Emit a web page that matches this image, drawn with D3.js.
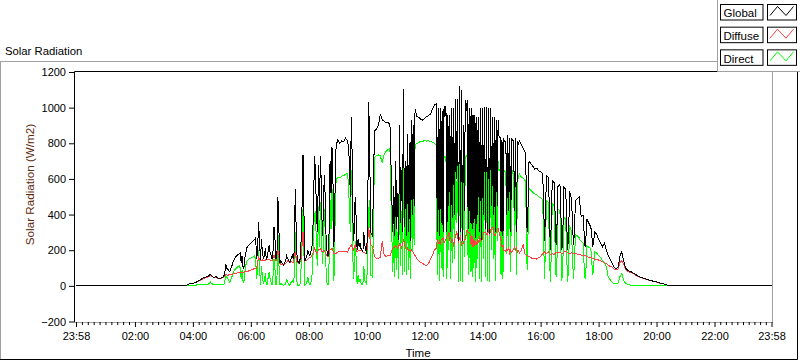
<!DOCTYPE html>
<html><head><meta charset="utf-8">
<script src="https://cdn.jsdelivr.net/npm/d3@7"></script>
<style>
body{margin:0;background:#fff;}
svg{display:block;font-family:"Liberation Sans",Arial,sans-serif;}
</style></head><body>
<svg id="c" width="800" height="361"></svg>
<script>
const chartTitle = "Solar Radiation";
const yAxisTitle = "Solar Radiation (W/m2)";
const xAxisTitle = "Time";
const seriesNames = ["Global", "Diffuse", "Direct"];
const seriesColors = ["#000000", "#ff4040", "#00ff00"];
const xTickLabels = ["23:58","02:00","04:00","06:00","08:00","10:00","12:00","14:00","16:00","18:00","20:00","22:00","23:58"];
const xTickMinutes = [-2,120,240,360,480,600,720,840,960,1080,1200,1320,1438];
const yTicks = [-200,0,200,400,600,800,1000,1200];
const dayStart = -2, dayEnd = 1438;          // minutes from midnight
const sampleStart = 220, sampleStep = 4;     // main samples from 03:40 every 4 min; "mid" samples 2 min later

const globalVals = [
0,0,5,10,12,15,18,22,30,35,
42,48,50,55,65,55,48,52,45,40,
48,55,120,95,80,105,140,160,172,180,
130,95,165,215,228,238,250,262,150,360,
145,190,170,150,200,185,150,330,150,500,
128,130,115,140,155,132,160,150,545,140,
128,250,735,140,170,180,190,250,730,400,
680,730,280,620,240,168,700,780,220,760,
820,800,815,810,830,815,700,945,250,500,
200,220,210,190,230,182,1030,300,280,870,
880,900,960,930,925,915,920,905,480,560,
700,520,900,650,1105,700,850,800,930,900,
990,950,945,935,930,940,950,955,965,990,
1015,1020,1000,1000,980,1010,1010,960,960,1000,
1000,1050,1050,1120,1100,900,1040,1040,1000,1000,
960,960,945,945,1000,1000,1005,1005,1000,1000,
950,950,930,930,830,820,820,810,845,830,
830,815,830,815,815,790,770,750,300,700,
685,670,655,660,645,640,630,250,620,610,
200,590,580,230,560,570,200,555,540,200,
530,490,230,480,490,500,390,395,220,375,
350,330,220,300,290,260,240,220,240,200,
170,150,125,105,95,105,165,190,140,100,
88,80,78,72,65,58,52,48,44,40,
37,34,30,27,25,22,19,16,14,10,
6,2,0,0,0,0,0,0,0,0,0];
const globalMid = [
0,2,8,11,13,16,20,26,32,38,
45,49,52,60,60,50,50,48,42,44,
50,70,100,85,92,122,150,166,176,185,
170,110,190,222,233,244,256,270,200,250,
260,150,210,160,230,170,200,260,170,330,
140,125,130,170,145,140,170,200,300,135,
150,450,400,155,200,170,210,500,620,300,
420,560,400,500,190,300,520,600,480,800,
810,805,812,820,822,780,500,700,300,380,
260,240,200,300,200,400,800,290,600,875,
890,930,950,928,920,918,912,700,300,280,
320,260,350,300,330,280,300,250,400,450,
970,948,940,932,935,945,952,960,978,1002,
1018,300,280,350,300,950,300,450,300,380,
400,600,250,300,250,420,980,320,350,320,
350,270,400,300,260,400,320,300,290,450,
400,300,450,830,300,280,810,400,420,300,
815,420,300,790,805,780,760,600,450,692,
678,662,658,652,642,635,500,400,615,450,
350,585,400,350,565,400,300,548,350,300,
510,350,300,485,495,440,392,300,280,362,
340,280,260,295,275,250,230,230,220,185,
160,138,115,100,98,130,180,165,120,94,
84,79,75,68,62,55,50,46,42,38,
36,32,28,26,24,20,18,15,12,8,
4,1,0,0,0,0,0,0,0,0];

const diffuseVals = [
null,3,5,10,12,15,17,20,28,32,
38,44,46,50,58,52,45,47,42,38,
44,50,62,60,62,65,68,70,72,75,
76,77,78,80,84,88,92,98,100,160,
140,145,140,150,150,145,140,170,140,200,
125,120,115,125,140,130,135,130,190,130,
125,150,300,140,145,155,160,180,210,180,
200,210,190,200,175,165,200,210,180,180,
190,195,190,195,195,190,215,230,200,230,
190,200,200,190,185,180,330,230,220,165,
155,155,160,250,175,165,170,170,200,215,
225,210,235,215,260,215,215,200,205,190,
170,150,140,130,125,118,115,125,150,170,
200,210,240,230,260,240,260,280,260,240,
220,280,290,270,230,240,260,320,300,230,
220,225,230,240,260,280,300,290,320,310,
330,280,300,320,280,220,200,190,200,185,
190,210,200,190,185,200,230,175,170,165,
160,150,155,150,160,165,180,190,180,190,
175,180,175,190,185,190,180,190,195,185,
180,185,180,180,178,175,172,170,170,165,
160,158,155,150,148,145,140,135,130,125,
115,110,105,95,90,95,130,140,120,92,
82,76,74,68,62,55,50,46,42,38,
35,32,29,26,24,21,18,15,13,9,
6,2,null,null,null,null,null,null,null,null,null];
const diffuseMid = [
null,4,8,11,14,16,18,24,30,35,
41,45,48,54,55,48,46,44,40,41,
47,56,61,61,64,66,69,71,74,76,
76,78,79,82,86,90,95,99,130,150,
142,142,145,150,148,142,155,155,170,160,
122,118,120,132,135,132,132,160,160,128,
138,225,220,142,150,158,170,195,195,190,
205,200,195,188,170,182,205,195,180,185,
192,192,192,195,192,202,222,215,215,210,
195,200,195,188,182,255,280,225,190,160,
155,158,205,210,170,168,170,180,210,220,
220,220,230,230,240,210,200,195,195,180,
160,145,135,128,122,116,120,138,160,185,
205,260,250,260,270,250,280,300,270,260,
260,300,240,280,240,260,290,300,290,280,
260,250,260,270,250,300,300,290,280,320,
330,280,320,300,260,230,200,210,215,200,
195,220,210,195,192,215,202,172,168,162,
155,152,152,155,162,172,185,185,185,182,
178,178,182,188,188,185,185,192,190,182,
182,182,180,179,176,174,171,170,168,162,
159,156,152,149,146,142,138,132,128,120,
112,108,100,92,92,112,135,130,106,87,
79,75,71,65,58,52,48,44,40,36,
33,30,28,25,22,20,16,14,11,8,
4,null,null,null,null,null,null,null,null,null];

const directVals = [
null,2,2,3,3,4,4,5,5,6,
6,6,7,10,22,12,5,6,6,6,
6,6,60,40,20,45,78,95,105,112,
40,20,85,138,150,155,160,168,40,200,
5,50,30,5,50,40,5,150,5,310,
3,5,3,10,20,3,25,15,300,3,
3,100,430,5,20,20,10,80,400,190,
450,470,120,430,60,10,480,550,30,570,
610,605,615,620,625,630,440,650,40,250,
10,20,15,10,30,5,420,60,50,720,
730,735,730,690,740,755,765,770,280,340,
470,300,650,420,780,470,610,570,720,700,
790,800,805,810,812,815,812,815,810,805,
800,790,760,760,740,730,730,700,700,740,
760,750,750,800,790,650,720,720,770,770,
760,760,745,745,740,740,700,700,700,690,
690,680,680,700,650,650,650,640,660,640,
660,630,640,630,630,610,605,590,90,545,
535,525,515,510,500,495,485,40,480,470,
20,460,450,50,430,420,30,390,370,20,
340,300,40,290,280,270,250,240,40,225,
215,210,60,190,185,170,160,140,130,110,
50,35,20,12,10,15,50,70,30,15,
8,5,4,4,4,3,3,3,3,3,
3,3,2,2,2,2,1,1,1,0,
0,0,null,null,null,null,null,null,null,null,null];
const directMid = [
null,2,2,3,3,4,4,5,5,6,
6,6,8,15,15,8,5,6,6,6,
6,20,50,30,30,60,85,100,108,100,
90,30,120,145,152,158,165,140,90,100,
110,10,70,10,80,20,60,90,30,130,
15,5,10,40,10,10,30,60,110,5,
10,300,180,10,50,10,50,330,420,110,
220,350,210,300,10,130,320,390,300,600,
608,610,618,622,628,580,300,460,90,160,
60,40,5,110,20,220,480,60,400,725,
732,732,710,715,748,760,768,500,80,50,
90,40,110,60,80,60,90,40,190,230,
795,802,808,811,813,813,813,812,808,802,
795,60,30,100,50,720,40,200,40,130,
150,350,20,30,20,160,730,60,80,50,
100,20,150,40,20,150,50,30,20,200,
150,30,250,650,60,40,640,180,200,80,
630,200,60,610,620,608,598,420,300,540,
530,520,512,505,498,490,300,220,475,250,
170,455,220,160,425,200,120,380,160,120,
320,150,130,285,275,255,245,120,100,220,
212,130,120,188,178,165,150,135,120,80,
42,28,16,11,12,30,60,50,22,12,
6,4,4,4,3,3,3,3,3,3,
3,2,2,2,2,2,1,1,1,0,
0,null,null,null,null,null,null,null,null,null];

// interleave main samples (t) and mid samples (t + 2 min)
function series(main, mid) {
  const out = [];
  main.forEach((v, i) => {
    const t = sampleStart + i * sampleStep;
    out.push([t, v]);
    if (i < mid.length) out.push([t + sampleStep / 2, mid[i]]);
  });
  return out;
}

const svg = d3.select("#c");
const x = d3.scaleLinear().domain([dayStart, dayEnd]).range([76, 771.5]);
const y = d3.scaleLinear().domain([-200, 1200]).range([321.5, 72]);

// outer panel frame
svg.append("line").attr("x1",0).attr("x2",717).attr("y1",61.5).attr("y2",61.5).attr("stroke","#a0a0a0");
svg.append("line").attr("x1",0.5).attr("x2",0.5).attr("y1",61.5).attr("y2",359.5).attr("stroke","#a0a0a0");
svg.append("line").attr("x1",0).attr("x2",797.5).attr("y1",359.5).attr("y2",359.5).attr("stroke","#000");
svg.append("line").attr("x1",797.5).attr("x2",797.5).attr("y1",71.5).attr("y2",359.5).attr("stroke","#000");

svg.append("text").attr("x",5).attr("y",54.5).attr("font-size","11.3px").attr("fill","#000").text(chartTitle);

// data
svg.append("clipPath").attr("id","pc").append("rect").attr("x",75).attr("y",71).attr("width",697).attr("height",251);
const g = svg.append("g").attr("clip-path","url(#pc)");

const seriesData = [
  [[dayStart,0]].concat(series(globalVals, globalMid)).concat([[dayEnd,0]]),
  series(diffuseVals, diffuseMid),
  series(directVals, directMid)
];
const line = d3.line().defined(d => d[1] !== null).x(d => x(d[0])).y(d => y(d[1]));
// draw Direct first, then Diffuse, Global on top
[2, 1, 0].forEach(k => {
  g.append("path").datum(seriesData[k]).attr("d",line).attr("fill","none")
   .attr("stroke",seriesColors[k]).attr("stroke-width",1)
   .attr("shape-rendering","crispEdges");
});

// plot frame
svg.append("line").attr("x1",74.5).attr("x2",772.5).attr("y1",71.5).attr("y2",71.5).attr("stroke","#000");
svg.append("line").attr("x1",74.5).attr("x2",74.5).attr("y1",71.5).attr("y2",322.5).attr("stroke","#000");
svg.append("line").attr("x1",772.5).attr("x2",772.5).attr("y1",71.5).attr("y2",322.5).attr("stroke","#a0a0a0");
svg.append("line").attr("x1",74.5).attr("x2",772.5).attr("y1",322.5).attr("y2",322.5).attr("stroke","#a0a0a0");

// y axis
const yAxis = d3.axisLeft(y).tickValues(yTicks).tickSize(5).tickPadding(3).tickFormat(d3.format("d"));
const ya = svg.append("g").attr("transform","translate(74,0)").call(yAxis);
ya.select(".domain").remove();
ya.selectAll("line").attr("stroke","#000");
ya.selectAll("text").attr("font-size","11px").attr("font-family","Liberation Sans, Arial, sans-serif").attr("fill","#000");

// x axis major + minor
const minorTicks = [];
for (let j = 0; j < xTickMinutes.length - 1; j++) {
  const a = xTickMinutes[j], b = xTickMinutes[j+1];
  for (let m = 1; m < 10; m++) minorTicks.push(a + (b - a) * m / 10);
}
const xMinor = d3.axisBottom(x).tickValues(minorTicks).tickSize(3).tickFormat("");
const xm = svg.append("g").attr("transform","translate(0,322)").call(xMinor);
xm.select(".domain").remove();
xm.selectAll("line").attr("stroke","#000");
const xAxis = d3.axisBottom(x).tickValues(xTickMinutes).tickSize(5).tickPadding(5)
  .tickFormat((d,i) => xTickLabels[i]);
const xa = svg.append("g").attr("transform","translate(0,322)").call(xAxis);
xa.select(".domain").remove();
xa.selectAll("line").attr("stroke","#000");
xa.selectAll("text").attr("font-size","11px").attr("font-family","Liberation Sans, Arial, sans-serif").attr("fill","#000");

svg.append("text").attr("x",418).attr("y",356.5).attr("text-anchor","middle").attr("font-size","11.5px").attr("fill","#000").text(xAxisTitle);
svg.append("text").attr("transform","translate(33.5,184.5) rotate(-90)").attr("text-anchor","middle")
  .attr("font-size","11.7px").attr("fill","#5c2a0c").text(yAxisTitle);

// legend
const lg = svg.append("g");
lg.append("rect").attr("x",717.5).attr("y",-1).attr("width",84).attr("height",72.5).attr("fill","#fff").attr("stroke","none");
lg.append("line").attr("x1",717.5).attr("x2",717.5).attr("y1",0).attr("y2",71.5).attr("stroke","#a0a0a0");
lg.append("line").attr("x1",717.5).attr("x2",800).attr("y1",71.5).attr("y2",71.5).attr("stroke","#a0a0a0");
seriesNames.forEach((name,k) => {
  const oy = k * 22.67;
  lg.append("rect").attr("x",720.5).attr("y",4.5+oy).attr("width",42.5).attr("height",15.5).attr("fill","#fff").attr("stroke","#000");
  lg.append("text").attr("x",723.5).attr("y",17.3+oy).attr("font-size","11.5px").attr("fill","#000").text(name);
  lg.append("rect").attr("x",767.5).attr("y",4.5+oy).attr("width",29).attr("height",15.5).attr("fill","#fff").attr("stroke","#000");
  lg.append("polyline").attr("points",[[770,15.5+oy],[777.5,6.5+oy],[786,15.5+oy],[793.5,6.5+oy]].map(p=>p.join(",")).join(" "))
    .attr("fill","none").attr("stroke",seriesColors[k]).attr("stroke-width",1);
});
</script>
</body></html>
